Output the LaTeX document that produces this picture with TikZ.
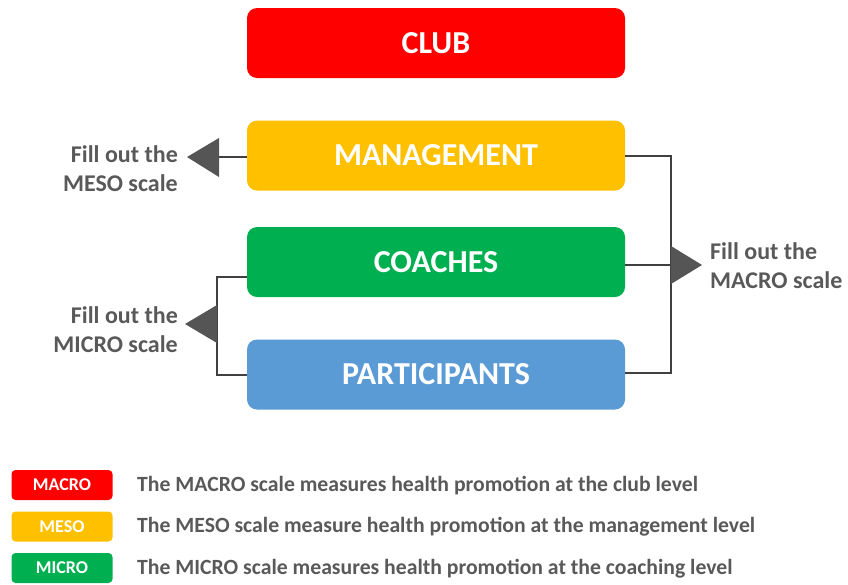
\documentclass[tikz,border=0pt]{standalone}
\usepackage{fontspec}
\setmainfont{Carlito}
\usetikzlibrary{positioning}
\definecolor{cred}{HTML}{FF0000}
\definecolor{cyel}{HTML}{FFC000}
\definecolor{cgrn}{HTML}{00B050}
\definecolor{cblu}{HTML}{5B9BD5}
\definecolor{txtgray}{HTML}{595959}
\definecolor{linegray}{HTML}{404040}
\definecolor{trigray}{HTML}{555555}
\tikzset{
  levelbox/.style={rounded corners=10pt, minimum width=378pt, minimum height=70pt, inner sep=0pt,
    text=white, font=\fontsize{32}{32}\selectfont\bfseries},
  legbox/.style={rounded corners=4pt, minimum width=101pt, minimum height=30pt, inner sep=0pt,
    text=white, font=\fontsize{18}{18}\selectfont\bfseries},
  legtext/.style={anchor=west, inner sep=0pt, text=txtgray, font=\fontsize{21.7}{22}\selectfont\bfseries},
  filltext/.style={inner sep=0pt, text=txtgray, font=\fontsize{24}{29}\selectfont\bfseries},
  conn/.style={draw=linegray, line width=1.5pt},
  tri/.style={fill=trigray}
}
\begin{document}
\begin{tikzpicture}[x=1pt,y=-1pt]
\useasboundingbox (0,0) rectangle (848,584);
% level boxes
\node[levelbox, fill=cred] (club) at (436,43) {CLUB};
\node[levelbox, fill=cyel] (mgmt) at (436,155.5) {MANAGEMENT};
\node[levelbox, fill=cgrn] (coach) at (436,262) {COACHES};
\node[levelbox, fill=cblu] (part) at (436,374.5) {PARTICIPANTS};
% MESO connector
\coordinate (mesotri) at (219,157);
\draw[conn] (mgmt.west |- mesotri) -- (mesotri);
\fill[tri] (219,138) -- (187,157) -- (219,177) -- cycle;
\node[filltext, anchor=east, align=right] (meso) at (178,169) {Fill out the\\MESO scale};
% MICRO bracket
\coordinate (microtop) at (217,277);
\coordinate (microbot) at (217,375);
\draw[conn] (coach.west |- microtop) -- (microtop) -- (microbot) -- (part.west |- microbot);
\fill[tri] (217,305) -- (185,324) -- (217,343) -- cycle;
\node[filltext, anchor=east, align=right] (micro) at (178,329.5) {Fill out the\\MICRO scale};
% MACRO bracket
\coordinate (macrotop) at (671,156);
\coordinate (macromid) at (671,265);
\coordinate (macrobot) at (671,373);
\draw[conn] (mgmt.east |- macrotop) -- (macrotop) -- (macrobot) -- (part.east |- macrobot);
\draw[conn] (coach.east |- macromid) -- (macromid);
\fill[tri] (671,246) -- (702,265) -- (671,284) -- cycle;
\node[filltext, anchor=west, align=left] (macro) at (710,265.5) {Fill out the\\MACRO scale};
% legend
\node[legbox, fill=cred] (lmacro) at (62,485) {MACRO};
\node[legbox, fill=cyel] (lmeso) at (62,526.5) {MESO};
\node[legbox, fill=cgrn] (lmicro) at (62,568) {MICRO};
\node[legtext] (tmacro) at (137,486) {The MACRO scale measures health promotion at the club level};
\node[legtext] (tmeso) at (137,527) {The MESO scale measure health promotion at the management level};
\node[legtext] (tmicro) at (137,568.5) {The MICRO scale measures health promotion at the coaching level};
\end{tikzpicture}
\end{document}
